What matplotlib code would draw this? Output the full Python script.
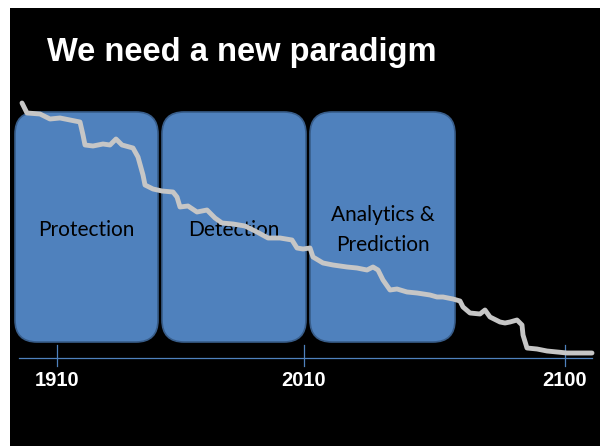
import matplotlib
matplotlib.use("Agg")
import matplotlib.pyplot as plt
from matplotlib.patches import FancyBboxPatch, Rectangle

# timeline ticks (position along the slide, label)
tick_pos = [57, 304, 565]
tick_labels = ["1910", "2010", "2100"]

# phases shown as rounded boxes: (left, right, label)
phase_left = [15, 162, 310]
phase_right = [158, 306, 455]
phase_labels = ["Protection", "Detection", "Analytics &\nPrediction"]

# the jagged declining curve
line_x = [22, 27, 40, 50, 60, 70, 80, 83, 85, 93, 103, 110, 116, 122, 133, 138,
          143, 145, 153, 162, 173, 177, 180, 188, 197, 207, 215, 222, 233, 245,
          257, 268, 280, 292, 297, 303, 310, 313, 323, 333, 347, 357, 367, 373,
          378, 383, 390, 397, 407, 417, 430, 437, 443, 453, 460, 463, 470, 480,
          485, 490, 500, 505, 510, 517, 522, 523, 527, 537, 547, 557, 567, 580,
          592]
line_y = [103, 113, 114, 119, 118, 120, 122, 135, 145, 146, 144, 145, 139, 145,
          148, 157, 175, 185, 189, 191, 192, 197, 207, 206, 212, 210, 218, 223,
          224, 226, 232, 238, 238, 240, 248, 249, 248, 257, 263, 265, 267, 268,
          270, 267, 270, 280, 290, 289, 292, 293, 295, 297, 297, 299, 301, 307,
          313, 314, 310, 317, 322, 323, 322, 320, 325, 335, 348, 349, 351, 352,
          353, 353, 353]

fig = plt.figure(figsize=(6.0, 4.46), dpi=100, facecolor="white")
ax = fig.add_axes([0, 0, 1, 1])
ax.set_xlim(0, 600)
ax.set_ylim(446, 0)
ax.axis("off")

# black slide background
ax.add_patch(Rectangle((10, 8), 590, 438, facecolor="black", edgecolor="none", zorder=0))

ax.text(47, 52, "We need a new paradigm", color="white", fontsize=23.5,
        fontweight="bold", family="Liberation Sans", ha="left", va="center")

top, bottom = 112, 342
for left, right, label in zip(phase_left, phase_right, phase_labels):
    ax.add_patch(FancyBboxPatch((left, top), right - left, bottom - top,
                                boxstyle="round,pad=0,rounding_size=22",
                                facecolor="#4F81BD", edgecolor="#385D8A",
                                linewidth=1.2, zorder=1))
    ax.text((left + right) / 2, 230, label, color="black", fontsize=15,
            family="Lato", ha="center", va="center", linespacing=1.6, zorder=2)

# timeline axis
ax.plot([19, 592], [358, 358], color="#4F81BD", lw=0.9, zorder=2)
for p, lab in zip(tick_pos, tick_labels):
    ax.plot([p, p], [345, 366], color="#4F81BD", lw=0.9, zorder=2)
    ax.text(p, 381, lab, color="white", fontsize=14.5, fontweight="bold",
            family="Liberation Sans", ha="center", va="center")

ax.plot(line_x, line_y, color="#C6C6C6", lw=3.5, solid_joinstyle="round",
        solid_capstyle="round", zorder=3)

fig.savefig("out.png", dpi=100, facecolor="white")
